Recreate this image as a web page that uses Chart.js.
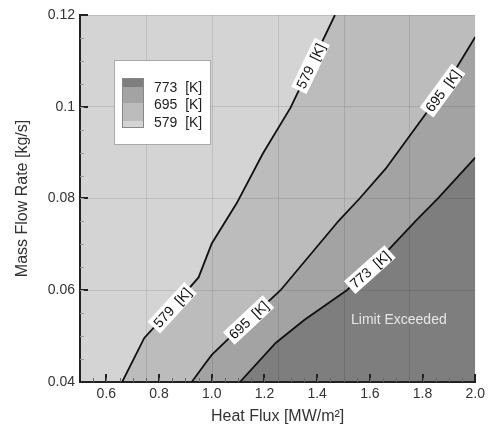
<!DOCTYPE html>
<html>
<head>
<title>Mass Flow Rate vs Heat Flux</title>
<script src="https://cdn.jsdelivr.net/npm/chart.js"></script>
<style>
  body { margin: 0; background: #fff; }
</style>
</head>
<body>
<canvas id="fluxChart" width="489" height="429"></canvas>
<script>
// axis ticks
const xTicks = [0.6, 0.8, 1.0, 1.2, 1.4, 1.6, 1.8, 2.0];
const yTicks = [0.04, 0.06, 0.08, 0.1, 0.12];
const xGrid = [0.75, 1.0, 1.25, 1.5, 1.75];

// contour levels [K] and fill shades (lowest region first)
const levels = [579, 695, 773];
const levelColors = ["#d4d4d4", "#bcbcbc", "#a3a3a3", "#7e7e7e"];

// contour lines
const x579 = [0.66, 0.744, 0.85, 0.95, 1.0, 1.095, 1.194, 1.299, 1.4675];
const y579 = [0.04, 0.0496, 0.0562, 0.0628, 0.0702, 0.079, 0.0898, 0.0998, 0.12];
const x695 = [0.924, 0.976, 1.0, 1.05, 1.261, 1.4825, 1.561, 1.66, 1.876, 2.0];
const y695 = [0.04, 0.0441, 0.0459, 0.0487, 0.06, 0.0752, 0.08, 0.0865, 0.1035, 0.1152];
const x773 = [1.107, 1.2425, 1.351, 1.5125, 1.6, 1.775, 1.861, 2.0];
const y773 = [0.04, 0.0485, 0.0535, 0.06, 0.0645, 0.0752, 0.0802, 0.0889];

// where the in-line labels sit (heat flux value)
const label579 = [0.85, 1.375];
const label695 = [1.14, 1.876];
const label773 = [1.6];

const FONT = "'Liberation Sans', Arial, sans-serif";

let contours = [
  { level: levels[0], xs: x579, ys: y579, at: label579 },
  { level: levels[1], xs: x695, ys: y695, at: label695 },
  { level: levels[2], xs: x773, ys: y773, at: label773 },
];

function pts(xs, ys) {
  return xs.map((v, i) => ({ x: v, y: ys[i] }));
}

// filled regions: closed at the top/right edge and filled down to the axis
let fillSets = [
  {
    data: pts([0.5, 2.0], [0.12, 0.12]),
    backgroundColor: levelColors[0],
    order: 10,
  },
];
contours.forEach((c, i) => {
  let xs = c.xs.slice(), ys = c.ys.slice();
  if (xs[xs.length - 1] < 2.0) { xs.push(2.0); ys.push(0.12); }
  fillSets.push({ data: pts(xs, ys), backgroundColor: levelColors[i + 1], order: 9 - i });
});
fillSets.forEach((d) => {
  d.fill = "start";
  d.borderWidth = 0;
  d.pointRadius = 0;
  d.tension = 0;
});

let lineSets = contours.map((c) => ({
  data: pts(c.xs, c.ys),
  borderColor: "#111",
  borderWidth: 1.8,
  pointRadius: 0,
  fill: false,
  order: 0,
}));

function yOnLine(c, xv) {
  for (let i = 0; i < c.xs.length - 1; i++) {
    if (xv >= c.xs[i] && xv <= c.xs[i + 1]) {
      let t = (xv - c.xs[i]) / (c.xs[i + 1] - c.xs[i]);
      return { y: c.ys[i] + t * (c.ys[i + 1] - c.ys[i]), i: i };
    }
  }
  return { y: c.ys[c.ys.length - 1], i: c.xs.length - 2 };
}

// vertical grid at 0.25 steps (labels are at 0.2 steps)
const xGridPlugin = {
  id: "xGrid",
  beforeDatasetsDraw(chart) {
    let { ctx, chartArea: a, scales } = chart;
    ctx.save();
    ctx.strokeStyle = "rgba(0,0,0,0.1)";
    ctx.lineWidth = 1;
    xGrid.forEach((v) => {
      let px = Math.round(scales.x.getPixelForValue(v)) + 0.5;
      ctx.beginPath();
      ctx.moveTo(px, a.top);
      ctx.lineTo(px, a.bottom);
      ctx.stroke();
    });
    ctx.restore();
  },
};

const overlayPlugin = {
  id: "overlay",
  afterDatasetsDraw(chart) {
    let { ctx, chartArea: a, scales } = chart;
    let sx = scales.x, sy = scales.y;
    ctx.save();

    // labels on contour lines
    ctx.font = "14px " + FONT;
    ctx.textAlign = "center";
    ctx.textBaseline = "middle";
    contours.forEach((c) => {
      c.at.forEach((xv) => {
        let r = yOnLine(c, xv);
        let px = sx.getPixelForValue(xv), py = sy.getPixelForValue(r.y);
        let ang = Math.atan2(
          sy.getPixelForValue(c.ys[r.i + 1]) - sy.getPixelForValue(c.ys[r.i]),
          sx.getPixelForValue(c.xs[r.i + 1]) - sx.getPixelForValue(c.xs[r.i])
        );
        let txt = c.level + "  [K]";
        let w = ctx.measureText(txt).width + 6;
        ctx.save();
        ctx.translate(px, py);
        ctx.rotate(ang);
        ctx.fillStyle = "#fff";
        ctx.fillRect(-w / 2, -8.5, w, 17);
        ctx.fillStyle = "#111";
        ctx.fillText(txt, 0, 1);
        ctx.restore();
      });
    });

    // note in the hottest region
    ctx.font = "14px " + FONT;
    ctx.fillStyle = "#e6e6e6";
    ctx.fillText("Limit Exceeded", sx.getPixelForValue(1.71), sy.getPixelForValue(0.0535));

    // legend box
    let lx = a.left + 34, ly = a.top + 45;
    ctx.fillStyle = "#fff";
    ctx.fillRect(lx, ly, 96, 84);
    ctx.strokeStyle = "#aaa";
    ctx.lineWidth = 1;
    ctx.strokeRect(lx + 0.5, ly + 0.5, 96, 84);
    let bands = [[18, 9, 3], [27, 16, 2], [43, 18, 1], [61, 7, 0]];
    bands.forEach((b) => {
      ctx.fillStyle = levelColors[b[2]];
      ctx.fillRect(lx + 8, ly + b[0], 22, b[1]);
    });
    ctx.strokeStyle = "#888";
    ctx.strokeRect(lx + 8.5, ly + 18.5, 21, 49);
    ctx.fillStyle = "#222";
    ctx.textAlign = "left";
    ctx.font = "14px " + FONT;
    [773, 695, 579].forEach((lv, i) => {
      ctx.fillText(lv + "  [K]", lx + 40, ly + 28 + i * 17.5);
    });

    // inward ticks
    ctx.strokeStyle = "#222";
    ctx.lineWidth = 2;
    xTicks.forEach((v) => {
      let px = Math.round(sx.getPixelForValue(v));
      ctx.beginPath();
      ctx.moveTo(px, a.bottom);
      ctx.lineTo(px, a.bottom - 8);
      ctx.stroke();
    });
    yTicks.forEach((v) => {
      let py = Math.round(sy.getPixelForValue(v));
      ctx.beginPath();
      ctx.moveTo(a.left, py);
      ctx.lineTo(a.left + 8, py);
      ctx.stroke();
    });
    ctx.lineWidth = 1;
    ctx.strokeStyle = "#666";
    for (let k = 1; k < 30; k++) {
      let v = 0.5 + k * 0.05;
      let px = Math.round(sx.getPixelForValue(v)) + 0.5;
      ctx.beginPath();
      ctx.moveTo(px, a.bottom);
      ctx.lineTo(px, a.bottom - 4);
      ctx.stroke();
    }
    ctx.strokeStyle = "#999";
    for (let k = 1; k < 16; k++) {
      let v = 0.04 + k * 0.005;
      let py = Math.round(sy.getPixelForValue(v)) + 0.5;
      ctx.beginPath();
      ctx.moveTo(a.left, py);
      ctx.lineTo(a.left + 4, py);
      ctx.stroke();
    }
    ctx.restore();
  },
};

let chart = new Chart(document.getElementById("fluxChart").getContext("2d"), {
  type: "line",
  data: { datasets: fillSets.concat(lineSets) },
  options: {
    responsive: false,
    animation: false,
    devicePixelRatio: 1,
    layout: { padding: { top: 15, right: 9, left: 0, bottom: 0 } },
    plugins: {
      legend: { display: false },
      tooltip: { enabled: false },
      filler: { drawTime: "beforeDraw" },
    },
    scales: {
      x: {
        type: "linear",
        min: 0.5,
        max: 2.0,
        afterBuildTicks: (s) => { s.ticks = xTicks.map((v) => ({ value: v })); },
        afterFit: (s) => { s.height = 47; },
        ticks: {
          maxRotation: 0,
          padding: 4,
          color: "#333",
          font: { family: FONT, size: 14 },
          callback: (v) => Number(v).toFixed(1),
        },
        grid: { color: "transparent", drawTicks: false },
        border: { color: "#222", width: 2 },
        title: {
          display: true,
          text: "Heat Flux [MW/m²]",
          color: "#333",
          font: { family: FONT, size: 16 },
          padding: { top: 0, bottom: 3 },
        },
      },
      y: {
        min: 0.04,
        max: 0.12,
        afterBuildTicks: (s) => { s.ticks = yTicks.map((v) => ({ value: v })); },
        afterFit: (s) => { s.width = 80; },
        ticks: {
          padding: 5,
          color: "#333",
          font: { family: FONT, size: 14 },
          callback: (v) => String(v),
        },
        grid: { color: "rgba(0,0,0,0.1)", drawTicks: false },
        border: { color: "#222", width: 2 },
        title: {
          display: true,
          text: "Mass Flow Rate [kg/s]",
          color: "#333",
          font: { family: FONT, size: 16 },
          padding: { top: 13, bottom: 0 },
        },
      },
    },
  },
  plugins: [xGridPlugin, overlayPlugin],
});
</script>
</body>
</html>
